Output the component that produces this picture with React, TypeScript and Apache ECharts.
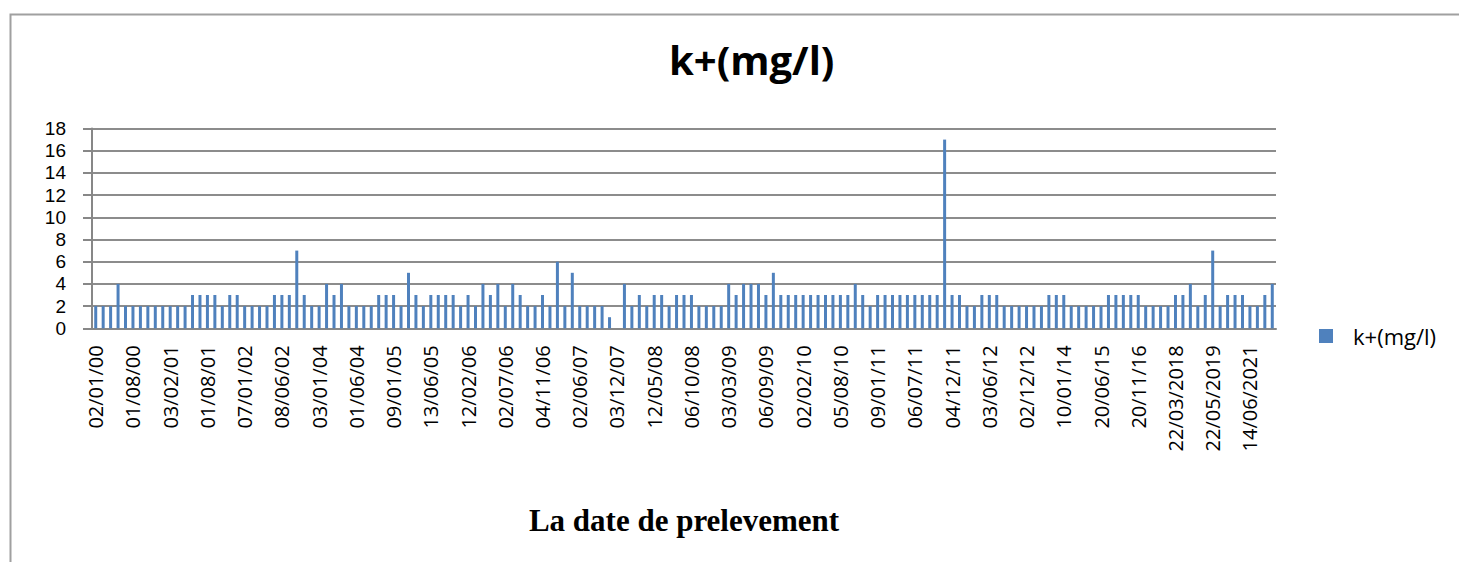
import React, { useEffect, useRef } from "react";
import * as echarts from "echarts";

// Potassium concentration (mg/l) for each sampling date, in order
const potassium: number[] = [
  2, 2, 2, 4, 2, 2, 2, 2, 2, 2,
  2, 2, 2, 3, 3, 3, 3, 2, 3, 3,
  2, 2, 2, 2, 3, 3, 3, 7, 3, 2,
  2, 4, 3, 4, 2, 2, 2, 2, 3, 3,
  3, 2, 5, 3, 2, 3, 3, 3, 3, 2,
  3, 2, 4, 3, 4, 2, 4, 3, 2, 2,
  3, 2, 6, 2, 5, 2, 2, 2, 2, 1,
  0, 4, 2, 3, 2, 3, 3, 2, 3, 3,
  3, 2, 2, 2, 2, 4, 3, 4, 4, 4,
  3, 5, 3, 3, 3, 3, 3, 3, 3, 3,
  3, 3, 4, 3, 2, 3, 3, 3, 3, 3,
  3, 3, 3, 3, 17, 3, 3, 2, 2, 3,
  3, 3, 2, 2, 2, 2, 2, 2, 3, 3,
  3, 2, 2, 2, 2, 2, 3, 3, 3, 3,
  3, 2, 2, 2, 2, 3, 3, 4, 2, 3,
  7, 2, 3, 3, 3, 2, 2, 3, 4,
];

// Sampling dates shown on the axis (one every five samples)
const shownDates: string[] = [
  "02/01/00", "01/08/00", "03/02/01", "01/08/01", "07/01/02", "08/06/02",
  "03/01/04", "01/06/04", "09/01/05", "13/06/05", "12/02/06", "02/07/06",
  "04/11/06", "02/06/07", "03/12/07", "12/05/08", "06/10/08", "03/03/09",
  "06/09/09", "02/02/10", "05/08/10", "09/01/11", "06/07/11", "04/12/11",
  "03/06/12", "02/12/12", "10/01/14", "20/06/15", "20/11/16", "22/03/2018",
  "22/05/2019", "14/06/2021",
];

const labelStep = 5;
const yTicks = { min: 0, max: 18, interval: 2 };
const seriesName = "k+(mg/l)";
const axisTitle = "La date de prelevement";

const sampleIndex: string[] = potassium.map((_, i) => String(i));

const sansFont = "'Open Sans', Lato, sans-serif";
const compactFont = "'Liberation Sans', Arial, sans-serif";

export default function App() {
  const ref = useRef<HTMLDivElement>(null);

  useEffect(() => {
    if (!ref.current) return;
    const chart = echarts.init(ref.current, undefined, { renderer: "svg" });
    chart.setOption({
      animation: false,
      backgroundColor: "#ffffff",
      title: {
        text: seriesName,
        left: 664,
        top: 34,
        textStyle: {
          fontFamily: sansFont,
          fontWeight: "bold",
          fontSize: 40,
          color: "#000000",
        },
      },
      legend: {
        left: 1314,
        top: 320,
        orient: "vertical",
        icon: "rect",
        itemWidth: 14,
        itemHeight: 14,
        data: [seriesName],
        textStyle: {
          fontFamily: sansFont,
          fontSize: 22,
          color: "#000000",
          padding: [0, 0, 0, 15],
        },
      },
      grid: {
        left: 92,
        right: 183,
        top: 128.5,
        bottom: 233.7,
        containLabel: false,
      },
      xAxis: {
        type: "category",
        data: sampleIndex,
        name: axisTitle,
        nameLocation: "middle",
        nameGap: 177,
        nameTextStyle: {
          fontFamily: "'Liberation Serif', 'Times New Roman', serif",
          fontWeight: "bold",
          fontSize: 31,
          color: "#000000",
        },
        axisLine: { lineStyle: { color: "#878787", width: 2 } },
        axisTick: { show: false },
        axisLabel: {
          interval: labelStep - 1,
          rotate: 90,
          margin: 17,
          fontFamily: sansFont,
          fontSize: 20,
          lineHeight: 20,
          color: "#000000",
          formatter: (v: string) => {
            const i = Number(v);
            return i % labelStep === 0 ? shownDates[i / labelStep] ?? "" : "";
          },
        },
      },
      yAxis: {
        type: "value",
        min: yTicks.min,
        max: yTicks.max,
        interval: yTicks.interval,
        axisLine: { show: true, lineStyle: { color: "#878787", width: 2 } },
        axisTick: { show: true, length: 9, lineStyle: { color: "#878787", width: 2 } },
        axisLabel: {
          margin: 26,
          fontFamily: compactFont,
          fontSize: 19,
          lineHeight: 19,
          color: "#000000",
        },
        splitLine: { lineStyle: { color: "#8c8c8c", width: 2 } },
      },
      series: [
        {
          name: seriesName,
          type: "bar",
          data: potassium,
          barWidth: 3,
          itemStyle: { color: "#4f81bd" },
        },
      ],
      graphic: [
        {
          type: "polyline",
          shape: {
            points: [
              [10.5, 600],
              [10.5, 14.5],
              [1470, 14.5],
            ],
          },
          style: { stroke: "#a0a0a0", lineWidth: 2, fill: "none" },
          silent: true,
        },
      ],
    });
    return () => chart.dispose();
  }, []);

  return (
    <div
      ref={ref}
      style={{ position: "fixed", left: 0, top: 0, width: 1459, height: 562 }}
    />
  );
}
